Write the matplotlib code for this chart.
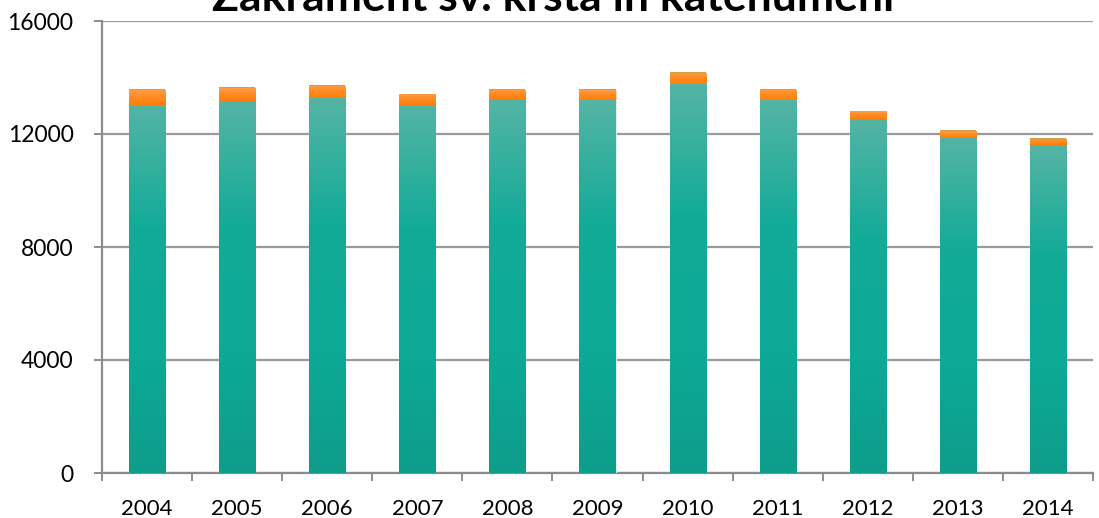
import matplotlib
matplotlib.use("Agg")
import matplotlib.pyplot as plt
import numpy as np
from matplotlib.colors import LinearSegmentedColormap

years = ["2004", "2005", "2006", "2007", "2008", "2009", "2010", "2011", "2012", "2013", "2014"]
krsti = [13030, 13180, 13260, 13030, 13250, 13215, 13760, 13205, 12530, 11870, 11610]
odrasli = [530, 440, 440, 370, 320, 350, 400, 360, 270, 230, 220]
katehumeni = [40, 40, 40, 30, 30, 30, 30, 30, 30, 30, 30]
title = "Zakrament sv. krsta in katehumeni"

plt.rcParams['font.family'] = ['Lato', 'DejaVu Sans']

W, H = 1099, 518
fig = plt.figure(figsize=(W / 100, H / 100), dpi=100)
ax = fig.add_axes([102 / W, 1 - 473 / H, (1093 - 102) / W, (473 - 21) / H])

x = np.arange(len(years))
bw = 0.4
teal_cmap = LinearSegmentedColormap.from_list("teal", ["#0e9d8b", "#0caa97", "#13ab98", "#55b4a4"])
orange_cmap = LinearSegmentedColormap.from_list("orng", ["#ff7f0a", "#ff8a20", "#ff9d48"])

b1 = ax.bar(x, krsti, bw, color="#13ab98", edgecolor="#d8f0ec", linewidth=0.8, zorder=3)
bottom2 = np.array(krsti)
b2 = ax.bar(x, odrasli, bw, bottom=bottom2, color="#ff8a20", edgecolor="#ffd9b0", linewidth=0.6, zorder=3)
bottom3 = bottom2 + np.array(odrasli)
b3 = ax.bar(x, katehumeni, bw, bottom=bottom3, color="#c9a24a", edgecolor="none", linewidth=0, zorder=4)

grad = np.linspace(0, 1, 256).reshape(-1, 1)
for bars, cmap in ((b1, teal_cmap), (b2, orange_cmap)):
    for p in bars:
        x0, y0 = p.get_x(), p.get_y()
        w, h = p.get_width(), p.get_height()
        im = ax.imshow(grad, cmap=cmap, origin="lower", aspect="auto",
                       extent=(x0, x0 + w, y0, y0 + h), zorder=3.5, interpolation="bicubic")
        im.set_clip_path(p)

ax.set_xlim(-0.5, len(years) - 0.5)
ax.set_ylim(0, 16000)
ax.set_yticks([0, 4000, 8000, 12000, 16000])
ax.set_xticks(x)
ax.set_xticklabels(years)
ax.set_xticks(np.arange(len(years) + 1) - 0.5, minor=True)
ax.grid(axis="y", color="#9a9a9a", linewidth=1.6, zorder=1)
ax.set_axisbelow(True)

for s in ("top", "right"):
    ax.spines[s].set_visible(False)
for s in ("left", "bottom"):
    ax.spines[s].set_color("#8c8c8c")
    ax.spines[s].set_linewidth(1.6)

ax.tick_params(axis="y", direction="out", length=5.5, width=1.4, color="#8c8c8c",
               labelsize=16.5, pad=15, labelcolor="black")
ax.tick_params(axis="x", which="major", length=0, pad=19, labelsize=16, labelcolor="black")
ax.tick_params(axis="x", which="minor", direction="out", length=6, width=1.4, color="#8c8c8c")

fig.text(553 / W, 1 - 11 / H, title, ha="center", va="baseline",
         fontsize=32, fontweight="bold", color="black")

fig.savefig("out.png", dpi=100)
